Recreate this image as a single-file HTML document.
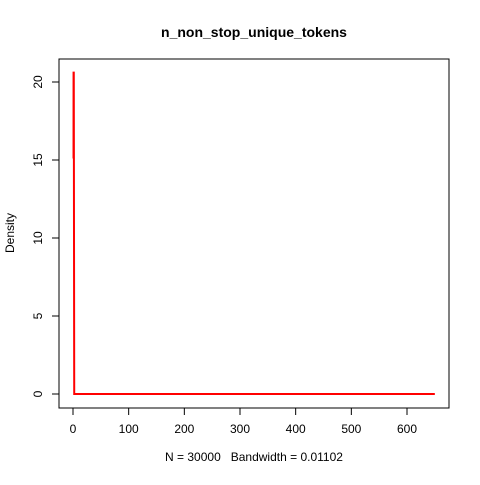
<!DOCTYPE html>
<html><head><style>body{margin:0;background:#fff}svg{font-family:"Liberation Sans",sans-serif}</style></head>
<body>
<svg width="480" height="480" xmlns="http://www.w3.org/2000/svg">
<text x="254" y="37" font-size="14" font-weight="bold" text-anchor="middle">n_non_stop_unique_tokens</text>
<rect x="59" y="59" width="390" height="349" fill="none" stroke="#000"/>
<g id="xaxis"></g>
<g id="yaxis"></g>
<text x="254" y="461" font-size="12" text-anchor="middle">N = 30000&#160;&#160;&#160;Bandwidth = 0.01102</text>
<text transform="translate(14,233) rotate(-90)" font-size="12" text-anchor="middle">Density</text>
<path id="line" fill="none" stroke="#f00" stroke-width="2"/>
</svg>
<script>
const xTicks=[0,100,200,300,400,500,600];
const yTicks=[0,5,10,15,20];
const xVals=[0.95,1.0,1.4,2.2,650];
const yVals=[15.1,20.6,20.6,0,0];
const sx=v=>73+v*(407-73)/600;
const sy=v=>394-v*(394-82)/20;
const NS="http://www.w3.org/2000/svg";
const xa=document.getElementById('xaxis'),ya=document.getElementById('yaxis');
function mk(t,a,p){const e=document.createElementNS(NS,t);for(const k in a)e.setAttribute(k,a[k]);p.appendChild(e);return e;}
mk('line',{x1:sx(0),x2:sx(600),y1:408,y2:408,stroke:'#000'},xa);
xTicks.forEach(v=>{
 const l=mk('line',{x1:sx(v),x2:sx(v),y1:408,y2:415,stroke:'#000'},xa);
 
 
 const t=mk('text',{x:sx(v),y:433,'font-size':12,'text-anchor':'middle'},xa);t.textContent=v;
 
 
});
yTicks.forEach(v=>{
 const l=mk('line',{x1:52,x2:59,y1:sy(v),y2:sy(v),stroke:'#000'},ya);
 
 
 const t=mk('text',{transform:`translate(42,${sy(v)}) rotate(-90)`,'font-size':12,'text-anchor':'middle'},ya);t.textContent=v;
 
 
});
document.getElementById('line').setAttribute('d',xVals.map((x,i)=>(i?'L':'M')+sx(x)+','+sy(yVals[i])).join(''));
</script>
</body></html>
